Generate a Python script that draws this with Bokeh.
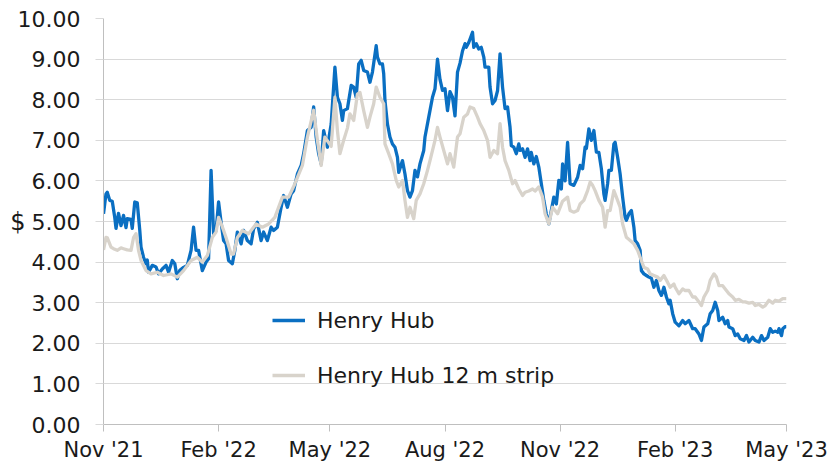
import pandas as pd
from datetime import datetime
from bokeh.plotting import figure
from bokeh.models import (ColumnDataSource, FixedTicker, DatetimeTickFormatter,
                          NumeralTickFormatter, Legend, LegendItem, Range1d)
from bokeh.embed import file_html
from bokeh.resources import INLINE

# ---- data (days counted from START) ----
START = "2021-11-01"

hh_days = [0, 2, 3, 5, 7, 9, 10, 12, 14, 16, 18, 19, 22, 23, 25, 27, 29, 30, 32, 34, 35, 36, 39, 42, 44, 47, 50, 52,
           55, 57, 59, 61, 64, 67, 70, 72, 74, 76, 79, 82, 84, 86, 88, 90, 92, 94, 96, 98, 100, 103, 105, 107, 110,
           112, 115, 118, 120, 123, 126, 128, 131, 134, 136, 139, 142, 144, 147, 150, 152, 155, 158, 160, 163, 166,
           168, 170, 172, 174, 176, 179, 182, 185, 187, 189, 191, 192, 195, 198, 200, 202, 204, 206, 208, 211, 213,
           215, 218, 219, 221, 223, 224, 225, 227, 229, 231, 233, 235, 236, 239, 241, 243, 245, 247, 249, 251, 253,
           256, 257, 260, 263, 265, 267, 269, 271, 273, 275, 277, 279, 281, 283, 285, 287, 289, 290, 292, 295, 296,
           298, 300, 302, 304, 305, 308, 309, 311, 313, 315, 317, 319, 321, 323, 325, 326, 328, 330, 332, 333, 335,
           337, 339, 341, 342, 344, 346, 348, 350, 352, 354, 356, 358, 360, 362, 364, 366, 367, 369, 371, 373, 376,
           379, 381, 383, 385, 386, 388, 390, 392, 394, 396, 398, 400, 401, 403, 404, 406, 408, 409, 411, 413, 415,
           417, 418, 420, 422, 424, 425, 427, 429, 430, 432, 434, 436, 438, 440, 442, 444, 446, 448, 450, 452, 453,
           455, 457, 460, 463, 465, 468, 471, 473, 476, 478, 480, 483, 485, 487, 489, 491, 492, 495, 497, 499, 500,
           503, 505, 507, 509, 512, 514, 516, 519, 521, 524, 526, 528, 531, 533, 535, 537, 539, 540, 542, 543, 545,
           546]
hh_price = [5.19, 5.68, 5.72, 5.52, 5.50, 5.10, 4.83, 5.20, 4.90, 5.15, 4.85, 5.07, 5.05, 4.83, 5.48, 5.46, 4.78,
            4.37, 4.12, 3.96, 4.05, 3.75, 3.92, 3.88, 3.71, 3.83, 3.92, 3.75, 4.04, 3.96, 3.59, 3.80, 3.87, 3.92,
            4.29, 4.86, 4.29, 4.29, 3.79, 4.00, 4.08, 6.26, 4.70, 4.78, 5.48, 4.98, 4.53, 4.45, 4.04, 3.96, 4.29,
            4.74, 4.45, 4.78, 4.53, 4.45, 4.82, 4.98, 4.53, 4.74, 4.53, 4.86, 4.78, 4.86, 5.35, 5.64, 5.35, 5.68,
            5.76, 6.17, 6.38, 6.67, 7.24, 7.32, 7.82, 7.08, 6.67, 6.42, 7.24, 6.83, 7.40, 8.80, 8.06, 7.90, 7.49,
            7.73, 7.78, 8.35, 8.31, 8.06, 8.88, 8.97, 8.72, 8.68, 8.43, 8.68, 9.33, 9.05, 8.88, 8.88, 8.64, 7.98,
            7.40, 7.08, 6.91, 6.83, 6.58, 6.21, 6.50, 6.17, 5.76, 5.60, 5.76, 6.26, 6.10, 6.42, 6.75, 7.08, 7.57,
            8.06, 8.27, 9.00, 8.50, 8.23, 8.27, 7.73, 8.20, 8.06, 7.60, 8.68, 8.90, 9.20, 9.38, 9.29, 9.41, 9.66,
            9.29, 9.38, 9.25, 9.29, 9.05, 8.80, 8.80, 8.31, 7.90, 7.98, 8.22, 9.13, 8.31, 7.78, 7.82, 7.32, 6.87,
            6.83, 6.67, 6.91, 6.75, 6.79, 6.58, 6.79, 6.50, 6.70, 6.42, 6.60, 6.34, 5.93, 5.52, 5.19, 4.94, 5.27,
            5.60, 5.43, 6.01, 5.80, 6.42, 6.00, 6.95, 5.93, 5.89, 6.09, 6.38, 6.30, 6.83, 6.80, 7.28, 7.00, 7.24,
            6.71, 6.70, 6.30, 5.68, 5.52, 5.93, 6.26, 6.26, 6.91, 6.95, 6.58, 6.17, 5.60, 5.10, 5.03, 5.19, 5.27,
            4.86, 4.53, 4.45, 4.29, 3.79, 3.71, 3.67, 3.63, 3.60, 3.38, 3.55, 3.30, 3.18, 3.38, 3.14, 2.97, 3.06,
            2.73, 2.52, 2.43, 2.56, 2.48, 2.56, 2.36, 2.36, 2.23, 2.07, 2.40, 2.48, 2.73, 2.81, 3.01, 2.81, 2.56,
            2.64, 2.48, 2.56, 2.40, 2.36, 2.19, 2.23, 2.11, 2.07, 2.19, 2.03, 2.15, 2.07, 2.03, 2.19, 2.07, 2.15,
            2.36, 2.27, 2.30, 2.27, 2.36, 2.19, 2.36, 2.41, 2.41]

strip_days = [0, 2, 3, 6, 8, 11, 14, 16, 19, 22, 24, 26, 28, 30, 34, 38, 43, 48, 54, 59, 64, 70, 75, 79, 83, 87, 90,
              92, 94, 96, 98, 102, 104, 107, 111, 116, 122, 127, 132, 137, 143, 148, 153, 159, 163, 168, 171, 174,
              177, 182, 185, 187, 189, 192, 195, 197, 200, 203, 205, 208, 211, 213, 216, 218, 221, 224, 225, 228,
              231, 234, 236, 239, 241, 243, 245, 248, 250, 253, 256, 259, 261, 265, 267, 269, 272, 275, 277, 280,
              283, 285, 288, 291, 293, 296, 299, 301, 304, 307, 309, 312, 315, 317, 319, 321, 324, 327, 329, 332,
              335, 337, 340, 343, 345, 348, 351, 353, 356, 359, 363, 367, 371, 373, 376, 379, 381, 384, 387, 389,
              391, 393, 396, 399, 401, 403, 405, 408, 410, 413, 415, 418, 421, 424, 427, 429, 432, 435, 437, 440,
              443, 445, 448, 451, 453, 456, 457, 460, 463, 465, 468, 471, 473, 476, 478, 480, 483, 485, 488, 490,
              492, 495, 497, 500, 503, 505, 508, 511, 513, 516, 519, 521, 524, 527, 529, 532, 535, 537, 540, 543,
              546]
strip_price = [4.30, 4.61, 4.60, 4.37, 4.33, 4.29, 4.35, 4.33, 4.30, 4.29, 4.60, 4.70, 4.29, 4.04, 3.79, 3.71, 3.75,
               3.67, 3.71, 3.63, 3.79, 4.04, 4.12, 4.00, 4.16, 4.61, 4.74, 5.10, 4.95, 4.78, 4.60, 4.20, 4.20, 4.60,
               4.78, 4.70, 4.94, 4.86, 4.94, 5.10, 5.60, 5.60, 5.93, 6.38, 7.08, 7.74, 7.00, 6.38, 7.08, 6.85, 8.06,
               7.24, 6.67, 7.00, 7.30, 7.65, 7.49, 8.14, 8.18, 7.73, 7.32, 7.57, 7.90, 8.31, 8.06, 7.90, 6.91, 6.67,
               6.42, 6.01, 5.85, 6.01, 5.52, 5.10, 5.35, 5.07, 5.52, 5.68, 5.93, 6.26, 6.50, 7.00, 7.32, 7.08, 6.75,
               6.42, 6.67, 6.34, 7.08, 7.16, 7.57, 7.65, 7.82, 7.78, 7.57, 7.41, 7.24, 7.00, 6.58, 6.75, 6.67, 7.41,
               6.83, 6.50, 6.26, 5.93, 6.01, 5.80, 5.64, 5.72, 5.75, 5.80, 5.75, 5.85, 5.60, 5.19, 4.94, 5.35, 5.19,
               5.50, 5.60, 5.27, 5.23, 5.27, 5.43, 5.52, 5.76, 5.97, 5.89, 5.76, 5.52, 5.35, 4.86, 5.27, 5.27, 5.76,
               5.60, 5.35, 4.94, 4.61, 4.53, 4.45, 4.29, 4.12, 3.87, 3.83, 3.71, 3.67, 3.63, 3.55, 3.67, 3.50, 3.38,
               3.46, 3.38, 3.22, 3.34, 3.30, 3.30, 3.14, 3.14, 3.02, 2.93, 3.14, 3.30, 3.55, 3.71, 3.63, 3.42, 3.42,
               3.34, 3.22, 3.14, 3.06, 3.08, 3.02, 3.02, 2.99, 3.01, 2.93, 2.96, 2.89, 2.93, 3.06, 2.99, 3.06, 3.04,
               3.10, 3.10]

tick_dates = ["2021-11-01", "2022-02-01", "2022-05-01", "2022-08-01",
              "2022-11-01", "2023-02-01", "2023-05-01"]
y_ticks = [0, 1, 2, 3, 4, 5, 6, 7, 8, 9, 10]

series_names = ["Henry Hub", "Henry Hub 12 m strip"]
BLUE = "#0a6fc2"
GRAY = "#d8d3cb"
FONT = "DejaVu Sans"

start = pd.Timestamp(START)
hh_src = ColumnDataSource(dict(date=start + pd.to_timedelta(hh_days, unit="D"), price=hh_price))
strip_src = ColumnDataSource(dict(date=start + pd.to_timedelta(strip_days, unit="D"), price=strip_price))

x0 = datetime.strptime(tick_dates[0], "%Y-%m-%d")
x1 = datetime.strptime(tick_dates[-1], "%Y-%m-%d")

p = figure(width=829, height=466, x_axis_type="datetime",
           x_range=Range1d(x0, x1), y_range=Range1d(y_ticks[0], y_ticks[-1]),
           output_backend="svg", toolbar_location=None,
           min_border_left=103, min_border_right=43, min_border_top=18, min_border_bottom=42)

p.outline_line_color = None
p.background_fill_color = "white"
p.border_fill_color = "white"

r_hh = p.line("date", "price", source=hh_src, line_color=BLUE, line_width=3.3, line_join="round")
r_strip = p.line("date", "price", source=strip_src, line_color=GRAY, line_width=3.3, line_join="round")

# x axis
xt = [pd.Timestamp(d).timestamp() * 1000 for d in tick_dates]
p.xaxis.ticker = FixedTicker(ticks=xt)
fmt = "%b '%y"
p.xaxis.formatter = DatetimeTickFormatter(years=fmt, months=fmt, days=fmt, hours=fmt,
                                          minutes=fmt, seconds=fmt, milliseconds=fmt)
p.xaxis.major_label_text_font = FONT
p.xaxis.major_label_text_font_size = "21px"
p.xaxis.major_label_text_color = "#1a1a1a"
p.xaxis.major_label_standoff = 6
p.xaxis.major_tick_in = 0
p.xaxis.major_tick_out = 7
p.xaxis.minor_tick_line_color = None
p.xaxis.axis_line_color = "#bfbfbf"
p.xaxis.major_tick_line_color = "#bfbfbf"

# y axis
p.yaxis.ticker = FixedTicker(ticks=y_ticks)
p.yaxis.formatter = NumeralTickFormatter(format="0.00")
p.yaxis.major_label_text_font = FONT
p.yaxis.major_label_text_font_size = "22px"
p.yaxis.major_label_text_color = "#1a1a1a"
p.yaxis.major_label_standoff = 15
p.yaxis.major_tick_in = 0
p.yaxis.major_tick_out = 8
p.yaxis.minor_tick_line_color = None
p.yaxis.axis_line_color = "#bfbfbf"
p.yaxis.major_tick_line_color = "#d9d9d9"
p.yaxis.axis_label = "$"
p.yaxis.axis_label_orientation = "horizontal"
p.yaxis.axis_label_standoff = -11
p.yaxis.axis_label_text_font = FONT
p.yaxis.axis_label_text_font_size = "24px"
p.yaxis.axis_label_text_font_style = "normal"
p.yaxis.axis_label_text_color = "#1a1a1a"

p.xgrid.grid_line_color = None
p.ygrid.ticker = FixedTicker(ticks=y_ticks)
p.ygrid.grid_line_color = "#d9d9d9"
p.ygrid.grid_line_width = 1

legend = Legend(items=[LegendItem(label=series_names[0], renderers=[r_hh]),
                       LegendItem(label=series_names[1], renderers=[r_strip])],
                location=(169, 36), orientation="vertical",
                border_line_color=None, background_fill_alpha=0,
                padding=0, margin=0, spacing=29,
                glyph_width=33, glyph_height=26, label_height=26,
                label_standoff=12,
                label_text_font=FONT, label_text_font_size="22px",
                label_text_color="#1a1a1a")
p.add_layout(legend)

open("out.html", "w").write(file_html(p, INLINE))
